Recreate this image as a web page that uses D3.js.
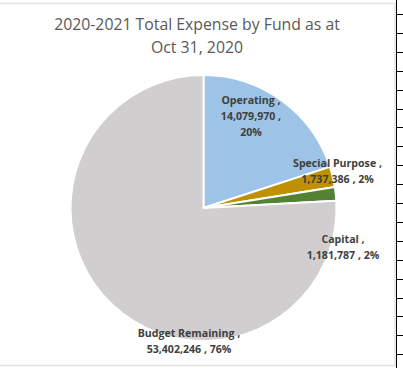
<!DOCTYPE html>
<html>
<head>
<meta charset="utf-8">
<script src="https://cdn.jsdelivr.net/npm/d3@7"></script>
<style>
  html, body { margin: 0; padding: 0; background: #fff; }
  svg { display: block; }
</style>
</head>
<body>
<svg id="chart" width="403" height="368"></svg>
<script>
// Fund categories and their year-to-date expense amounts
const funds = ["Operating", "Special Purpose", "Capital", "Budget Remaining"];
const amounts = [14079970, 1737386, 1181787, 53402246];
const percentLabels = ["20%", "2%", "2%", "76%"];
const fundColors = ["#9DC3E6", "#BF9000", "#548235", "#D0CECE"];
const titleLines = ["2020-2021 Total Expense by Fund as at", "Oct 31, 2020"];

const svg = d3.select("#chart");
const W = 403, H = 368;

// Spreadsheet gridline strip on the right edge
svg.append("line").attr("x1", 396.5).attr("x2", 396.5).attr("y1", 0).attr("y2", H)
  .attr("stroke", "#000").attr("stroke-width", 1);
const gridRows = d3.range(19).map(i => 14 + i * 18.9);
svg.selectAll("line.grid").data(gridRows).enter().append("line")
  .attr("class", "grid")
  .attr("x1", 396).attr("x2", 403)
  .attr("y1", d => Math.round(d) + 0.5).attr("y2", d => Math.round(d) + 0.5)
  .attr("stroke", "#000").attr("stroke-width", 1);

// Chart area frame
svg.append("rect").attr("x", -5).attr("y", 3.5).attr("width", 400).attr("height", 362)
  .attr("fill", "#fff").attr("stroke", "#e3e3e3").attr("stroke-width", 1.5);

// Title
const title = svg.append("text").attr("text-anchor", "middle")
  .attr("font-family", "'Open Sans', sans-serif").attr("font-size", 15.8)
  .attr("fill", "#595959");
titleLines.forEach((t, i) => {
  title.append("tspan").attr("x", 197).attr("y", 30 + i * 23).text(t);
});

// Pie
const cx = 203.5, cy = 208, r = 133;
const data = funds.map((f, i) => ({ fund: f, amount: amounts[i], pct: percentLabels[i], color: fundColors[i] }));
const pie = d3.pie().value(d => d.amount).sort(null);
const arc = d3.arc().innerRadius(0).outerRadius(r);
const arcs = pie(data);

const g = svg.append("g").attr("transform", `translate(${cx},${cy})`);
g.selectAll("path").data(arcs).enter().append("path")
  .attr("d", arc)
  .attr("fill", d => d.data.color)
  .attr("stroke", "#fff").attr("stroke-width", 2).attr("stroke-linejoin", "round");

// Data labels: category, value, percentage
const fmt = d3.format(",");
const labelSpots = [
  { x: 251, y: 104, lines: d => [d.fund + " ,", fmt(d.amount) + " ,", d.pct] },
  { x: 337.5, y: 167, lines: d => [d.fund + " ,", fmt(d.amount) + " , " + d.pct] },
  { x: 343, y: 243, lines: d => [d.fund + " ,", fmt(d.amount) + " , " + d.pct] },
  { x: 189, y: 337, lines: d => [d.fund + " ,", fmt(d.amount) + " , " + d.pct] }
];
data.forEach((d, i) => {
  const s = labelSpots[i];
  const t = svg.append("text").attr("text-anchor", "middle")
    .attr("font-family", "'Open Sans', sans-serif").attr("font-weight", "bold")
    .attr("font-size", 10.6).attr("fill", "#404040");
  s.lines(d).forEach((line, j) => {
    t.append("tspan").attr("x", s.x).attr("y", s.y + j * 15.8).text(line);
  });
});
</script>
</body>
</html>
